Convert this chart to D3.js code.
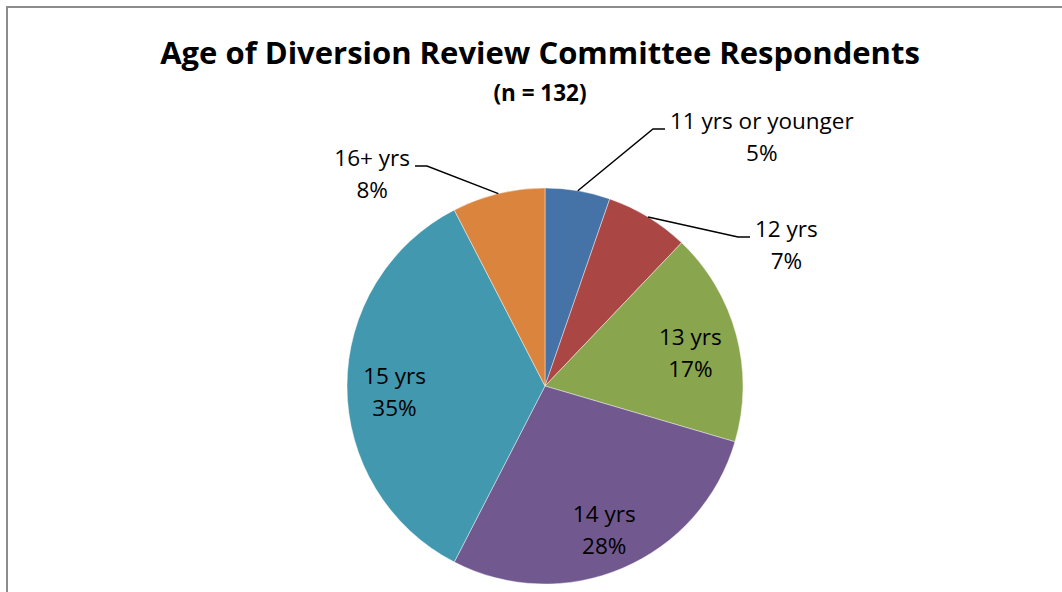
<!DOCTYPE html>
<html>
<head>
<meta charset="utf-8">
<script src="https://cdnjs.cloudflare.com/ajax/libs/d3/7.8.5/d3.min.js"></script>
<style>
  html, body { margin: 0; padding: 0; background: #fff; }
  svg { display: block; }
  text { font-family: "Open Sans", Lato, sans-serif; fill: #000; }
</style>
</head>
<body>
<svg id="chart" width="1062" height="592"></svg>
<script>
// Respondent counts by age group (n = 132)
const categories = ["11 yrs or younger", "12 yrs", "13 yrs", "14 yrs", "15 yrs", "16+ yrs"];
const counts = [7, 9, 23, 37, 46, 10];
const sliceColors = ["#4572A7", "#AA4643", "#89A54E", "#71588F", "#4198AF", "#DB843D"];
const titleText = "Age of Diversion Review Committee Respondents";
const subtitleText = "(n = 132)";

// Slices whose labels sit outside the pie, with the elbow point of the leader
// line relative to the pie centre and the side the label extends to.
const outsideLabels = {
  "11 yrs or younger": { elbow: [108, -257], side: 1 },
  "12 yrs": { elbow: [193, -149], side: 1 },
  "16+ yrs": { elbow: [-118, -220], side: -1 }
};

const cx = 545, cy = 386, radius = 198;
const labelFont = 22.5, lineGap = 32;

const svg = d3.select("#chart");

// chart area frame
svg.append("rect")
  .attr("x", 7).attr("y", 7)
  .attr("width", 1200).attr("height", 800)
  .attr("fill", "none")
  .attr("stroke", "#8c8c8c")
  .attr("stroke-width", 2);

svg.append("text")
  .attr("x", 540).attr("y", 64)
  .attr("text-anchor", "middle")
  .attr("font-weight", "bold")
  .attr("font-size", 31)
  .text(titleText);

svg.append("text")
  .attr("x", 540).attr("y", 101)
  .attr("text-anchor", "middle")
  .attr("font-weight", "bold")
  .attr("font-size", 22.5)
  .text(subtitleText);

const data = categories.map((c, i) => ({ category: c, value: counts[i], color: sliceColors[i] }));
const total = d3.sum(counts);

const pie = d3.pie().value(d => d.value).sort(null);
const arcs = pie(data);
const arc = d3.arc().innerRadius(0).outerRadius(radius);
const labelArc = d3.arc().innerRadius(radius * 0.76).outerRadius(radius * 0.76);

const g = svg.append("g").attr("transform", `translate(${cx},${cy})`);

g.selectAll("path.slice")
  .data(arcs)
  .join("path")
  .attr("class", "slice")
  .attr("d", arc)
  .attr("fill", d => d.data.color)
  .attr("stroke", "#ffffff")
  .attr("stroke-width", 0.6)
  .attr("stroke-opacity", 0.7);

const pct = d => Math.round(d.value / total * 100) + "%";

arcs.forEach(d => {
  const name = d.data.category;
  const out = outsideLabels[name];
  if (!out) {
    const [x, y] = labelArc.centroid(d);
    const t = g.append("text")
      .attr("text-anchor", "middle")
      .attr("font-size", labelFont);
    t.append("tspan").attr("x", x).attr("y", y - lineGap / 2 + 14).text(name);
    t.append("tspan").attr("x", x).attr("y", y + lineGap / 2 + 14).text(pct(d));
  } else {
    const mid = (d.startAngle + d.endAngle) / 2;
    const sx = Math.sin(mid) * radius, sy = -Math.cos(mid) * radius;
    const [ex, ey] = out.elbow;
    const tx = ex + out.side * 12;
    g.append("path")
      .attr("d", d3.line()([[sx, sy], [ex, ey], [tx, ey]]))
      .attr("fill", "none")
      .attr("stroke", "#000")
      .attr("stroke-width", 1.5);
    const t = g.append("text")
      .attr("text-anchor", "middle")
      .attr("font-size", labelFont);
    const l1 = t.append("tspan").attr("y", ey).text(name);
    const l2 = t.append("tspan").attr("y", ey + lineGap).text(pct(d));
    const w = Math.max(l1.node().getComputedTextLength(), l2.node().getComputedTextLength());
    const centerX = out.side > 0 ? tx + 5 + w / 2 : tx - 5 - w / 2;
    l1.attr("x", centerX);
    l2.attr("x", centerX);
  }
});
</script>
</body>
</html>
